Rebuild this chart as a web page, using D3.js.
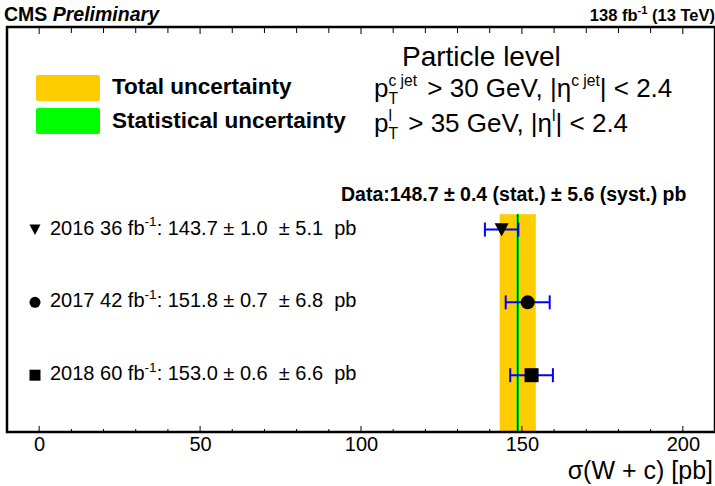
<!DOCTYPE html>
<html><head><meta charset="utf-8">
<script src="https://cdn.jsdelivr.net/npm/d3@7"></script>
<style>html,body{margin:0;padding:0;background:#fff;}svg{display:block;font-family:"Liberation Sans",Arial,Helvetica,sans-serif;}</style>
</head><body><div id="chart"></div>
<script>
// ---- data ----
const years = ["2016", "2017", "2018"];
const lumis = [36, 42, 60];
const values = [143.7, 151.8, 153.0];
const statErr = [1.0, 0.7, 0.6];
const systErr = [5.1, 6.8, 6.6];
const markerTypes = ["triangle", "circle", "square"];
const dataValue = 148.7;
const dataStat = 0.4;
const dataSyst = 5.6;
const xTickLabels = [0, 50, 100, 150, 200];
const xDomain = [-10, 210];
const rowIndex = [0, 1, 2];

const W = 715, H = 486;
const frame = {left: 7, right: 715, top: 27, bottom: 432};
const svg = d3.select("#chart").append("svg").attr("width", W).attr("height", H);

const x = d3.scaleLinear().domain(xDomain).range([frame.left, frame.right]);
const y = d3.scaleLinear().domain([-2.78, 2.78]).range([frame.top, frame.bottom]);

const totErr = (s, y2) => Math.sqrt(s * s + y2 * y2);
const dataTot = totErr(dataStat, dataSyst);

// total uncertainty band
svg.append("rect")
  .attr("x", x(dataValue - dataTot)).attr("width", x(dataValue + dataTot) - x(dataValue - dataTot))
  .attr("y", y(-0.21)).attr("height", frame.bottom - y(-0.21))
  .attr("fill", "#ffcc00");
// stat band
svg.append("rect")
  .attr("x", x(dataValue - dataStat)).attr("width", x(dataValue + dataStat) - x(dataValue - dataStat))
  .attr("y", y(-0.21)).attr("height", frame.bottom - y(-0.21))
  .attr("fill", "#00ff00");
// central line
svg.append("line")
  .attr("x1", x(dataValue)).attr("x2", x(dataValue))
  .attr("y1", y(-0.21)).attr("y2", frame.bottom)
  .attr("stroke", "#000").attr("stroke-width", 1);

// error bars
const eb = svg.append("g").attr("stroke", "#0000ff").attr("stroke-width", 2).attr("fill", "none");
rowIndex.forEach(i => {
  const e = totErr(statErr[i], systErr[i]);
  const yy = y(i);
  const x0 = x(values[i] - e), x1 = x(values[i] + e);
  eb.append("line").attr("x1", x0).attr("x2", x1).attr("y1", yy).attr("y2", yy);
  eb.append("line").attr("x1", x0).attr("x2", x0).attr("y1", yy - 7).attr("y2", yy + 7);
  eb.append("line").attr("x1", x1).attr("x2", x1).attr("y1", yy - 7).attr("y2", yy + 7);
});

function marker(g, type, cx, cy, s) {
  if (type === "triangle") {
    g.append("path").attr("d", `M${cx - s / 2},${cy - s * 0.45}L${cx + s / 2},${cy - s * 0.45}L${cx},${cy + s * 0.5}Z`).attr("fill", "#000");
  } else if (type === "circle") {
    g.append("circle").attr("cx", cx).attr("cy", cy).attr("r", s / 2).attr("fill", "#000");
  } else {
    g.append("rect").attr("x", cx - s / 2).attr("y", cy - s / 2).attr("width", s).attr("height", s).attr("fill", "#000");
  }
}
rowIndex.forEach(i => marker(svg, markerTypes[i], x(values[i]), y(i), 14));

// frame
svg.append("rect").attr("x", frame.left).attr("y", frame.top)
  .attr("width", frame.right - frame.left).attr("height", frame.bottom - frame.top)
  .attr("fill", "none").attr("stroke", "#000").attr("stroke-width", 2.5);

// bottom axis
const minorTicks = d3.range(xDomain[0], xDomain[1] + 0.1, 10);
const axB = d3.axisBottom(x).tickValues(xTickLabels).tickSize(0).tickPadding(5).tickFormat(d3.format("d"));
const gB = svg.append("g").attr("transform", `translate(0,${frame.bottom})`).call(axB);
gB.select(".domain").remove();
gB.selectAll("text").attr("font-size", 20).attr("font-family", "Liberation Sans, Arial, sans-serif").attr("fill", "#000");
const tk = svg.append("g").attr("stroke", "#000").attr("stroke-width", 1);
minorTicks.forEach(v => {
  const major = v % 50 === 0;
  tk.append("line").attr("x1", x(v)).attr("x2", x(v)).attr("y1", frame.bottom).attr("y2", frame.bottom - (major ? 6 : 3));
  tk.append("line").attr("x1", x(v)).attr("x2", x(v)).attr("y1", frame.top).attr("y2", frame.top + (major ? 7 : 6));
});

// axis title
svg.append("text").attr("x", 713).attr("y", 479).attr("text-anchor", "end")
  .attr("font-size", 25).text("σ(W + c) [pb]");

// header
const hdr = svg.append("text").attr("x", 4).attr("y", 21).attr("font-size", 19.5).attr("font-weight", "bold");
hdr.append("tspan").text("CMS ");
hdr.append("tspan").attr("font-style", "italic").text("Preliminary");

function rich(g, x0, y0, segs, size, weight) {
  let cx = x0;
  segs.forEach(s => {
    if (s.sup !== undefined || s.sub !== undefined) {
      let w = 0;
      if (s.sup !== undefined) {
        const t = g.append("text").attr("x", cx).attr("y", y0 - size * 0.42).attr("font-size", size * (s.scale || 0.68)).attr("font-weight", weight).text(s.sup);
        w = Math.max(w, t.node().getComputedTextLength());
      }
      if (s.sub !== undefined) {
        const t = g.append("text").attr("x", cx).attr("y", y0 + size * 0.25).attr("font-size", size * (s.scale || 0.68)).attr("font-weight", weight).text(s.sub);
        w = Math.max(w, t.node().getComputedTextLength());
      }
      cx += w + (s.gap || 0);
    } else {
      const t = g.append("text").attr("x", cx).attr("y", y0).attr("font-size", size).attr("font-weight", weight)
        .attr("xml:space", "preserve").style("white-space", "pre").text(s.t);
      cx += t.node().getComputedTextLength();
    }
  });
  return cx;
}
function richRight(g, xr, y0, segs, size, weight) {
  const tmp = g.append("g").attr("opacity", 0);
  const end = rich(tmp, 0, y0, segs, size, weight);
  tmp.remove();
  return rich(g, xr - end, y0, segs, size, weight);
}

richRight(svg, 715, 21, [{t: "138 fb"}, {sup: "-1"}, {t: " (13 TeV)"}], 16.5, "bold");

// legend
svg.append("rect").attr("x", 36).attr("y", 75).attr("width", 64).attr("height", 26).attr("rx", 2).attr("fill", "#ffcc00");
svg.append("rect").attr("x", 36).attr("y", 108).attr("width", 64).attr("height", 26).attr("rx", 2).attr("fill", "#00ff00");
svg.append("text").attr("x", 112).attr("y", 94).attr("font-size", 22.5).attr("font-weight", "bold").text("Total uncertainty");
svg.append("text").attr("x", 112).attr("y", 128).attr("font-size", 22.5).attr("font-weight", "bold").text("Statistical uncertainty");

// particle level text
svg.append("text").attr("x", 402).attr("y", 66).attr("font-size", 28).text("Particle level");
rich(svg, 374, 97, [{t: "p"}, {sup: "c jet", sub: "T", gap: 3, scale: 0.6}, {t: " > 30 GeV, |η"}, {sup: "c jet", scale: 0.6}, {t: "| < 2.4"}], 26, "normal");
rich(svg, 374, 132, [{t: "p"}, {sup: "l", sub: "T", gap: 3, scale: 0.6}, {t: " > 35 GeV, |η"}, {sup: "l", scale: 0.6}, {t: "| < 2.4"}], 26, "normal");

// data summary
rich(svg, 341, 201, [{t: `Data:${dataValue.toFixed(1)} ± ${dataStat.toFixed(1)} (stat.) ± ${dataSyst.toFixed(1)} (syst.) pb`}], 19.5, "bold");

// per-year labels
rowIndex.forEach(i => {
  const yy = y(i);
  marker(svg, markerTypes[i], 35, yy, 11);
  rich(svg, 50, yy + 5, [
    {t: `${years[i]} ${lumis[i]} fb`}, {sup: "-1"},
    {t: `: ${values[i].toFixed(1)} ± ${statErr[i].toFixed(1)}  ± ${systErr[i].toFixed(1)}  pb`}
  ], 20, "normal");
});
</script></body></html>
